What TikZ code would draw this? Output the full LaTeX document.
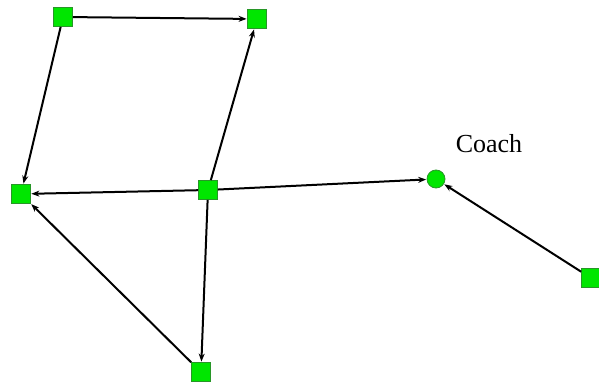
\documentclass[tikz,border=0pt]{standalone}
\usepackage{fontspec}
\setmainfont{Liberation Serif}
\usetikzlibrary{arrows.meta}
\definecolor{nodegreen}{RGB}{0,230,0}
\definecolor{nodeborder}{RGB}{40,150,40}
\tikzset{
  sq/.style={draw=nodeborder, fill=nodegreen, line width=0.8pt, minimum size=19pt, inner sep=0pt, rectangle},
  circ/.style={draw=nodeborder, fill=nodegreen, line width=0.8pt, minimum size=18pt, inner sep=0pt, circle},
  edge/.style={-{Stealth[length=8pt,width=6pt]}, line width=2pt, black, shorten >=0.5pt},
  lbl/.style={font=\fontsize{26}{30}\selectfont, inner sep=0pt}
}
\begin{document}
\begin{tikzpicture}[x=1pt,y=-1pt]
\useasboundingbox (0,0) rectangle (599,385);
\node[sq] (A) at (63,17) {};
\node[sq] (B) at (257,19) {};
\node[sq] (C) at (21,194) {};
\node[sq] (D) at (208,190) {};
\node[circ] (E) at (436,179) {};
\node[sq] (F) at (591,278) {};
\node[sq] (G) at (201,372) {};
\node[lbl] (L) at (489,144) {Coach};
\draw[edge] (A) -- (B);
\draw[edge] (A) -- (C);
\draw[edge] (D) -- (B);
\draw[edge] (D) -- (C);
\draw[edge] (D) -- (E);
\draw[edge] (D) -- (G);
\draw[edge] (G) -- (C);
\draw[edge] (F) -- (E);
\end{tikzpicture}
\end{document}
